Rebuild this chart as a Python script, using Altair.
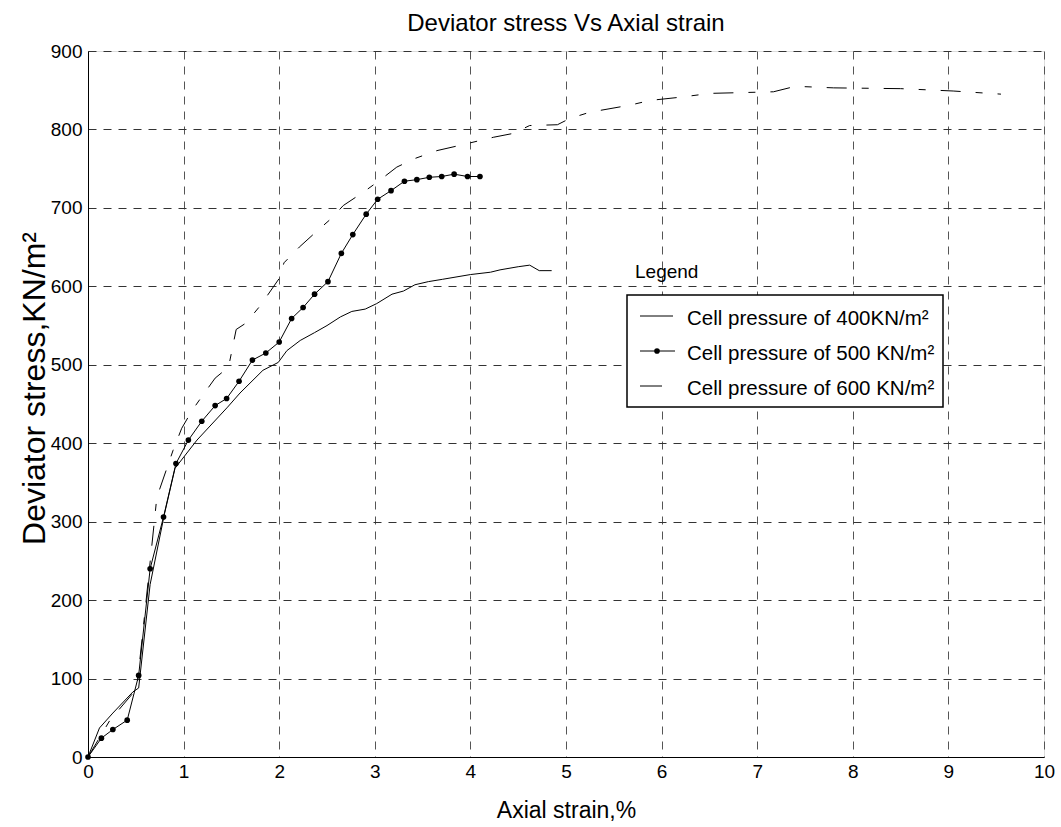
import altair as alt
import pandas as pd

# Series: cell pressure 400 KN/m2 (solid line)
s400_x = [0, 0.12, 0.26, 0.47, 0.53, 0.65, 0.8, 0.91, 1.14, 1.46, 1.59, 1.83, 1.99, 2.08, 2.22, 2.37,
          2.50, 2.64, 2.76, 2.90, 3.02, 3.18, 3.30, 3.42, 3.56, 3.71, 4.0, 4.21, 4.31, 4.5, 4.62, 4.72, 4.85]
s400_y = [0, 37, 56, 83, 88, 220, 310, 368, 404, 446, 464, 493, 503, 518, 531, 541,
          550, 561, 568, 571, 578, 590, 594, 602, 606, 609, 615, 618, 621, 625, 627, 620, 620]

# Series: cell pressure 500 KN/m2 (solid line with dots)
s500_x = [0, 0.14, 0.26, 0.41, 0.53, 0.65, 0.79, 0.92, 1.05, 1.19, 1.33, 1.45, 1.58, 1.72, 1.86, 2.0,
          2.13, 2.25, 2.37, 2.51, 2.65, 2.77, 2.91, 3.03, 3.17, 3.31, 3.44, 3.57, 3.70, 3.83, 3.97, 4.10]
s500_y = [0, 24, 35, 47, 104, 240, 306, 374, 404, 428, 448, 457, 479, 506, 515, 529,
          559, 573, 590, 606, 642, 666, 692, 711, 722, 734, 736, 739, 740, 743, 740, 740]

# Series: cell pressure 600 KN/m2 (dash-dot line)
s600_x = [0, 0.23, 0.51, 0.6, 0.72, 0.89, 0.98, 1.09, 1.2, 1.33, 1.47, 1.55, 1.65, 1.8, 2.0, 2.05,
          2.21, 2.40, 2.55, 2.67, 2.88, 3.05, 3.23, 3.42, 3.65, 3.9, 4.24, 4.45, 4.62, 4.91, 5.04,
          5.25, 5.67, 5.88, 6.19, 6.51, 6.85, 7.17, 7.4, 7.8, 8.5, 9.05, 9.55]
s600_y = [0, 47, 87, 190, 331, 391, 419, 442, 461, 483, 497, 545, 553, 575, 610, 630,
          650, 671, 687, 703, 720, 735, 752, 763, 773, 780, 790, 795, 805, 806, 814,
          822, 831, 837, 841, 846, 847, 848, 855, 853, 852, 849, 845]

x_ticks = [0, 1, 2, 3, 4, 5, 6, 7, 8, 9, 10]
y_ticks = [0, 100, 200, 300, 400, 500, 600, 700, 800, 900]

legend_labels = ["Cell pressure of 400KN/m²", "Cell pressure of 500 KN/m²", "Cell pressure of 600 KN/m²"]

FONT = "Liberation Sans, Arial, sans-serif"

d400 = pd.DataFrame({"x": s400_x, "y": s400_y})
d500 = pd.DataFrame({"x": s500_x, "y": s500_y})
d600 = pd.DataFrame({"x": s600_x, "y": s600_y})

xs = alt.Scale(domain=[0, 10], nice=False, zero=False)
ys = alt.Scale(domain=[0, 900], nice=False, zero=False)

xax = alt.Axis(values=x_ticks, format="d", title="Axial strain,%", grid=True, gridDash=[8, 7],
               gridColor="#555555", gridOpacity=1, labelFontSize=19, titleFontSize=23,
               labelFont=FONT, titleFont=FONT, titleFontWeight="normal", labelColor="black",
               titleColor="black", domainColor="black", ticks=False, labelPadding=5, labelFlush=False,
               titleY=60, titleBaseline="alphabetic")
yax = alt.Axis(values=y_ticks, format="d", title="Deviator stress,KN/m²", grid=True, gridDash=[8, 7],
               gridColor="#333333", gridOpacity=1, labelFontSize=19, titleFontSize=32,
               labelFont=FONT, titleFont=FONT, titleFontWeight="normal", labelColor="black",
               titleColor="black", domainColor="black", ticks=False, labelPadding=6, labelFlush=False,
               titleX=-44, titleY=337, titleBaseline="alphabetic")

l400 = alt.Chart(d400).mark_line(color="black", strokeWidth=1).encode(
    x=alt.X("x:Q", scale=xs, axis=xax), y=alt.Y("y:Q", scale=ys, axis=yax), order="x:Q")
l500 = alt.Chart(d500).mark_line(color="black", strokeWidth=1, point=alt.OverlayMarkDef(
    filled=True, color="black", size=32)).encode(x=alt.X("x:Q", scale=xs), y=alt.Y("y:Q", scale=ys), order="x:Q")
l600 = alt.Chart(d600).mark_line(color="black", strokeWidth=1, strokeDash=[20, 15, 7, 15]).encode(
    x=alt.X("x:Q", scale=xs), y=alt.Y("y:Q", scale=ys), order="x:Q")

one = pd.DataFrame({"a": [0]})
# Legend (drawn manually, pixel positions within plot area)
box = alt.Chart(one).mark_rect(fill="white", stroke="black", strokeWidth=1.5).encode(
    x=alt.value(539), x2=alt.value(855), y=alt.value(244), y2=alt.value(356))
leg_title = alt.Chart(one).mark_text(
    align="left", baseline="alphabetic", fontSize=19, font=FONT, color="black").encode(
    x=alt.value(547), y=alt.value(227), text=alt.value("Legend"))
line_y = [265, 300, 335]
text_y = [274, 309, 344]
line_x2 = [585, 587, 574]
leg_layers = []
for lab, ly, ty, lx2 in zip(legend_labels, line_y, text_y, line_x2):
    leg_layers.append(alt.Chart(one).mark_rule(color="black", strokeWidth=1).encode(
        x=alt.value(552), x2=alt.value(lx2), y=alt.value(ly)))
    leg_layers.append(alt.Chart(one).mark_text(
        align="left", baseline="alphabetic", fontSize=20.5, font=FONT, color="black").encode(
        x=alt.value(599), y=alt.value(ty), text=alt.value(lab)))
leg_layers.append(alt.Chart(one).mark_point(filled=True, color="black", size=32, opacity=1).encode(
    x=alt.value(569), y=alt.value(line_y[1])))

chart = alt.layer(l400, l500, l600, box, leg_title, *leg_layers).properties(
    width=956, height=706,
    title=alt.TitleParams("Deviator stress Vs Axial strain", fontSize=24, font=FONT, fontWeight="normal",
                          color="black", anchor="middle", offset=6),
    autosize=alt.AutoSizeParams(type="none"),
    padding={"left": 88, "top": 51, "right": 17, "bottom": 70},
).configure_view(stroke="black", strokeWidth=1).configure(background="white")

chart.save("out.html", embed_options={"renderer": "svg", "actions": False})
